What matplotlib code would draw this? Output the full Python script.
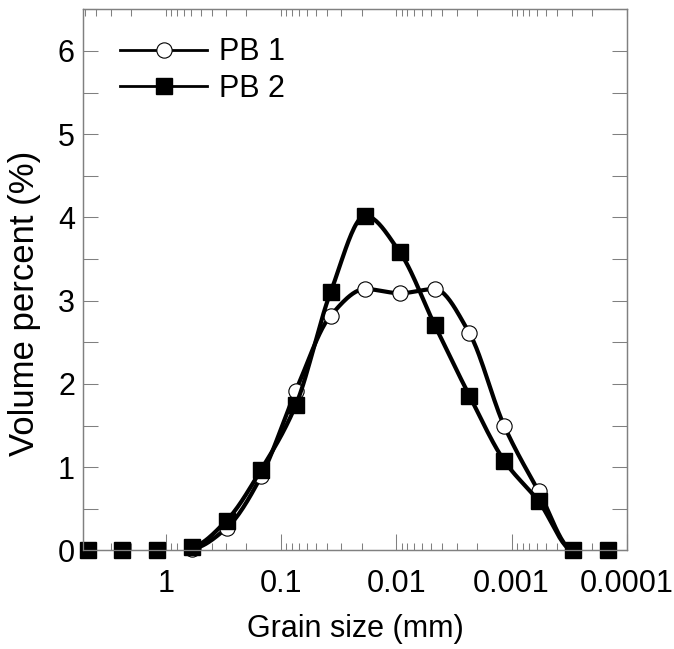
import numpy as np
import matplotlib
matplotlib.use("Agg")
import matplotlib.pyplot as plt
from matplotlib.lines import Line2D
from matplotlib.ticker import LogLocator, NullFormatter, MultipleLocator

plt.rcParams['font.family'] = ['Liberation Sans', 'DejaVu Sans']

# grain size classes (mm) and volume percent per class
grain_size = [4.76, 2.38, 1.19, 0.595, 0.297, 0.149, 0.0743, 0.0372,
              0.0186, 0.00929, 0.00465, 0.00232, 0.00116, 0.000581,
              0.000290, 0.000145]
pb1 = [0, 0, 0, 0.02, 0.27, 0.89, 1.92, 2.82, 3.14, 3.09, 3.14, 2.61,
       1.50, 0.71, 0, 0]
pb2 = [0, 0, 0, 0.04, 0.36, 0.97, 1.75, 3.10, 4.02, 3.58, 2.71, 1.86,
       1.08, 0.59, 0, 0]

# the smoothed curve only runs between these classes (first/last non-flat)
curve_from, curve_to = 3, 14

x_ticks = [1, 0.1, 0.01, 0.001, 0.0001]
x_labels = ['1', '0.1', '0.01', '0.001', '0.0001']

gray = '#808080'


def smooth(x, y, n=25):
    # monotone cubic (pchip) through the points, in log-x space
    t = np.log10(x)
    y = np.asarray(y, float)
    d = np.diff(y)
    m = np.zeros_like(y)
    m[0], m[-1] = d[0], d[-1]
    for k in range(1, len(y) - 1):
        if d[k - 1] * d[k] > 0:
            m[k] = 2 / (1 / d[k - 1] + 1 / d[k])
    ts, ys = [], []
    s = np.linspace(0, 1, n, endpoint=False)
    h00 = 2 * s**3 - 3 * s**2 + 1
    h10 = s**3 - 2 * s**2 + s
    h01 = -2 * s**3 + 3 * s**2
    h11 = s**3 - s**2
    for k in range(curve_from, curve_to):
        ts.append(t[k] + s * (t[k + 1] - t[k]))
        ys.append(h00 * y[k] + h10 * m[k] + h01 * y[k + 1] + h11 * m[k + 1])
    ts.append([t[curve_to]])
    ys.append([y[curve_to]])
    return 10 ** np.concatenate(ts), np.concatenate(ys)


fig = plt.figure(figsize=(6.74, 6.49), dpi=100)
ax = fig.add_axes([0.1236, 0.1518, 0.8063, 0.8339])

sx, sy = smooth(grain_size, pb1)
ax.plot(sx, sy, color='black', lw=3, zorder=2, solid_capstyle='butt')
ax.plot(grain_size, pb1, 'o', ms=11, mfc='white', mec='black', mew=0.8,
        zorder=3, clip_on=False)
sx, sy = smooth(grain_size, pb2)
ax.plot(sx, sy, color='black', lw=3, zorder=4, solid_capstyle='butt')
ax.plot(grain_size, pb2, 's', ms=11.5, color='black', zorder=5, clip_on=False)

ax.set_xscale('log')
ax.set_xlim(5.2, 0.0001)
ax.set_ylim(0, 6.5)

ax.set_xticks(x_ticks, x_labels)
ax.xaxis.set_minor_locator(LogLocator(base=10, subs=range(2, 10), numticks=20))
ax.xaxis.set_minor_formatter(NullFormatter())
ax.set_yticks(range(0, 7))
ax.yaxis.set_minor_locator(MultipleLocator(0.5))

ax.tick_params(axis='x', which='major', direction='in', length=11.5, width=0.75,
               color=gray, labelsize=22, pad=13, top=False)
ax.tick_params(axis='x', which='minor', direction='in', length=5, width=0.75,
               color=gray, top=False)
ax.tick_params(axis='y', which='both', direction='in', length=11, width=0.75,
               color=gray, labelsize=22, pad=6, right=True)

top = ax.twiny()
top.set_xscale('log')
top.set_xlim(ax.get_xlim())
top.set_xticks(x_ticks)
top.xaxis.set_minor_locator(LogLocator(base=10, subs=range(2, 10), numticks=20))
top.xaxis.set_minor_formatter(NullFormatter())
top.tick_params(axis='x', which='both', direction='in', length=5, width=0.75,
                color=gray, labeltop=False)

for a in (ax, top):
    for sp in a.spines.values():
        sp.set_color(gray)
        sp.set_linewidth(0.9)

ax.set_xlabel('Grain size (mm)', fontsize=22, labelpad=11)
ax.set_ylabel('Volume percent (%)', fontsize=25)
ax.yaxis.set_label_coords(-0.077, 0.456)

handles = [
    Line2D([], [], color='black', lw=2, marker='o', ms=11, mfc='white', mec='black', mew=0.8),
    Line2D([], [], color='black', lw=2, marker='s', ms=11.5, mfc='black', mec='black'),
]
ax.legend(handles, ['PB 1', 'PB 2'], loc='upper left', bbox_to_anchor=(0.0675, 0.948),
          frameon=False, fontsize=22, handlelength=2.85, handletextpad=0.4,
          labelspacing=0.22, borderpad=0, borderaxespad=0)

fig.savefig('out.png', dpi=100)
